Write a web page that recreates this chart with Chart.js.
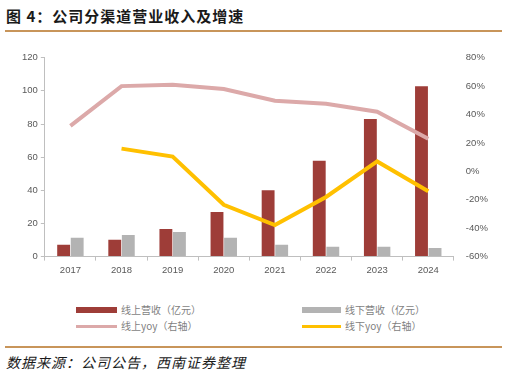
<!DOCTYPE html>
<html><head><meta charset="utf-8">
<script src="https://cdn.jsdelivr.net/npm/chart.js@4/dist/chart.umd.min.js"></script>
<style>
html,body{margin:0;padding:0;background:#fff;}
body{width:507px;height:378px;position:relative;overflow:hidden;font-family:"Noto Sans CJK SC",sans-serif;}
#title{position:absolute;left:6px;top:5px;font-size:15px;font-weight:bold;color:#1a1a1a;letter-spacing:1px;white-space:nowrap;}
.rule{position:absolute;left:5px;width:497px;height:2px;background:#c8955a;}
#src{position:absolute;left:6px;top:352px;font-size:14px;font-style:italic;color:#1a1a1a;letter-spacing:1px;white-space:nowrap;}
#wrap{position:absolute;left:0;top:40px;width:507px;height:240px;}
.lg{position:absolute;font-size:10px;color:#7f7f7f;white-space:nowrap;line-height:12px;}
.sw{position:absolute;}
</style></head><body>
<div id="title">图 4：公司分渠道营业收入及增速</div>
<div class="rule" style="top:30px"></div>
<div id="wrap"><canvas id="c" width="507" height="240"></canvas></div>
<div class="sw" style="left:76px;top:307px;width:41px;height:6px;background:#9e3d38"></div>
<div class="lg" style="left:121px;top:304px">线上营收（亿元）</div>
<div class="sw" style="left:302px;top:307px;width:39px;height:6px;background:#b3b3b3"></div>
<div class="lg" style="left:345px;top:304px">线下营收（亿元）</div>
<div class="sw" style="left:76px;top:325px;width:41px;height:3px;background:#dca9a9"></div>
<div class="lg" style="left:121px;top:320px">线上yoy（右轴）</div>
<div class="sw" style="left:302px;top:325px;width:39px;height:3px;background:#ffc000"></div>
<div class="lg" style="left:345px;top:320px">线下yoy（右轴）</div>
<div class="rule" style="top:346px"></div>
<div id="src">数据来源：公司公告，西南证券整理</div>
<script>
const categories = ['2017','2018','2019','2020','2021','2022','2023','2024'];
const onlineRevenue = [7.2, 10.1, 16.7, 26.9, 40.0, 57.9, 83.0, 102.7];
const offlineRevenue = [11.3, 13.1, 14.9, 11.3, 7.2, 6.0, 6.0, 5.2];
const onlineYoy = [32, 60, 61, 58, 49.7, 47.6, 42, 23];
const offlineYoy = [null, 16, 10.4, -23.5, -37.8, -18, 7, -14];
const leftTicks = [0, 20, 40, 60, 80, 100, 120];
const rightTicks = [-60, -40, -20, 0, 20, 40, 60, 80];

const tickFont = {family: '"Liberation Sans", Arial, sans-serif', size: 9.5};
const tickColor = '#595959';
const axisGray = '#bfbfbf';

new Chart(document.getElementById('c'), {
  data: {
    labels: categories,
    datasets: [
      {type:'line', label:'线上yoy（右轴）', data: onlineYoy, yAxisID:'y1', borderColor:'#dca9a9', borderWidth:4, pointRadius:0, tension:0, order:0},
      {type:'line', label:'线下yoy（右轴）', data: offlineYoy, yAxisID:'y1', borderColor:'#ffc000', borderWidth:4, pointRadius:0, tension:0, order:0},
      {type:'bar', label:'线上营收（亿元）', data: onlineRevenue, yAxisID:'y', backgroundColor:'#9e3d38', barPercentage:0.95, categoryPercentage:0.53, order:1},
      {type:'bar', label:'线下营收（亿元）', data: offlineRevenue, yAxisID:'y', backgroundColor:'#b3b3b3', barPercentage:0.95, categoryPercentage:0.53, order:1}
    ]
  },
  options: {
    responsive:false, animation:false, devicePixelRatio:1,
    layout:{padding:{left:19, right:7, top:7, bottom:0}},
    plugins:{legend:{display:false}, tooltip:{enabled:false}},
    scales:{
      x:{offset:true,
         grid:{offset:true, drawOnChartArea:false, drawTicks:true, tickLength:4, color:axisGray},
         border:{display:true, color:axisGray, width:1},
         ticks:{font:tickFont, color:tickColor, padding:4, maxRotation:0}},
      y:{position:'left', min:0, max:120,
         afterBuildTicks:(a)=>{a.ticks = leftTicks.map(v=>({value:v}));},
         grid:{drawOnChartArea:false, drawTicks:true, tickLength:4, color:axisGray},
         border:{display:true, color:axisGray},
         ticks:{font:tickFont, color:tickColor, padding:3}},
      y1:{position:'right', min:-60, max:80,
         afterBuildTicks:(a)=>{a.ticks = rightTicks.map(v=>({value:v}));},
         grid:{display:false, drawTicks:false},
         border:{display:false},
         ticks:{font:tickFont, color:tickColor, padding:12, callback:(v)=>v+'%'}}
    }
  }
});
</script>
</body></html>
